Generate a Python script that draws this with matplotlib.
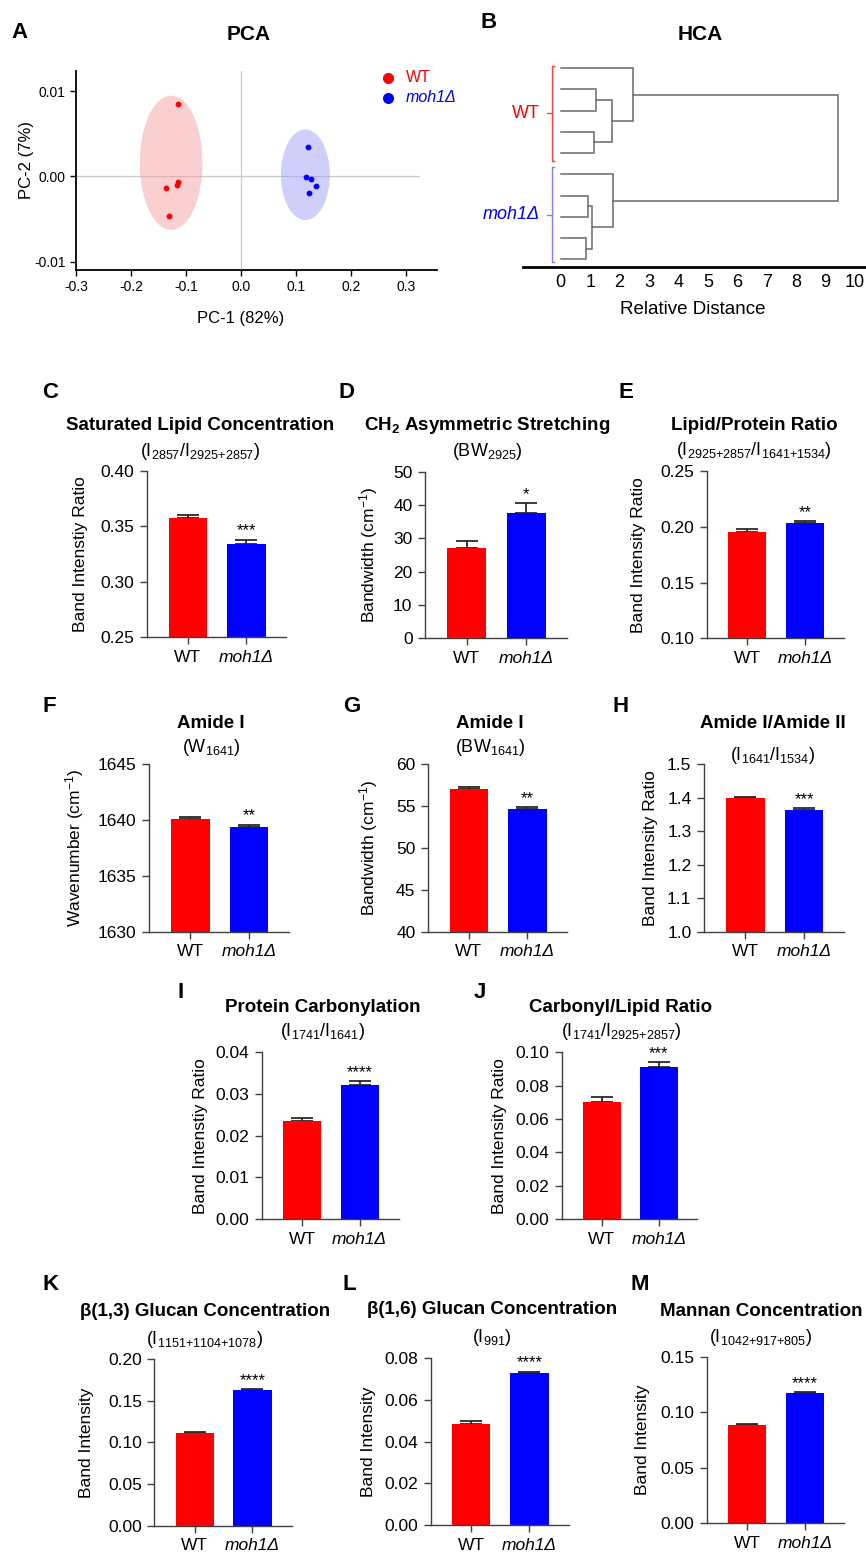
import matplotlib
matplotlib.use('Agg')
import matplotlib.pyplot as plt
from matplotlib.patches import Ellipse

plt.rcParams['font.family'] = ['Liberation Sans', 'DejaVu Sans']
plt.rcParams['mathtext.fontset'] = 'custom'
plt.rcParams['mathtext.rm'] = 'Liberation Sans'
plt.rcParams['mathtext.it'] = 'Liberation Sans:italic'
plt.rcParams['mathtext.bf'] = 'Liberation Sans:bold'
plt.rcParams['axes.unicode_minus'] = False

W, H = 866, 1553  # output size in px (dpi 100)

# ---------------- data ----------------
groups = ['WT', 'moh1Δ']
red, blue = '#ff0000', '#0000ff'

# PCA scores (PC-1, PC-2)
wt_pc1 = [-0.115, -0.136, -0.117, -0.115, -0.130]
wt_pc2 = [0.0085, -0.0014, -0.0010, -0.0007, -0.0046]
ko_pc1 = [0.122, 0.119, 0.127, 0.136, 0.124]
ko_pc2 = [0.0035, -0.0001, -0.0003, -0.0011, -0.0019]
# confidence ellipses: centre x, centre y, width, height
wt_ellipse = [-0.127, 0.0016, 0.114, 0.0157]
ko_ellipse = [0.117, 0.0002, 0.089, 0.0106]

# HCA: 10 leaves (0-4 WT, 5-9 moh1), merges (a, b, relative distance)
n_leaves = 10
hca_merges = [
    (1, 2, 1.21),    # -> 10
    (3, 4, 1.14),    # -> 11
    (10, 11, 1.74),  # -> 12
    (0, 12, 2.46),   # -> 13
    (6, 7, 0.93),    # -> 14
    (8, 9, 0.87),    # -> 15
    (14, 15, 1.06),  # -> 16
    (5, 16, 1.78),   # -> 17
    (13, 17, 9.41),  # -> 18
]

# bar panels: mean and SEM for WT, moh1
sat_lipid = [0.3577, 0.3337]
sat_lipid_err = [0.0021, 0.0039]
ch2_bw = [27.1, 37.6]
ch2_bw_err = [2.2, 2.9]
lipid_protein = [0.1950, 0.2031]
lipid_protein_err = [0.0027, 0.0018]
amide1_wn = [1640.05, 1639.37]
amide1_wn_err = [0.18, 0.18]
amide1_bw = [57.0, 54.6]
amide1_bw_err = [0.27, 0.24]
amide_ratio = [1.398, 1.364]
amide_ratio_err = [0.004, 0.004]
carbonyl = [0.0235, 0.0321]
carbonyl_err = [0.0008, 0.0010]
carbonyl_lipid = [0.0704, 0.0910]
carbonyl_lipid_err = [0.0026, 0.0030]
glucan13 = [0.1109, 0.1625]
glucan13_err = [0.0011, 0.0012]
glucan16 = [0.0485, 0.0731]
glucan16_err = [0.0015, 0.0005]
mannan = [0.0885, 0.1175]
mannan_err = [0.0006, 0.0005]
sig = ['***', '*', '**', '**', '**', '***', '****', '***', '****', '****', '****']


def rect(l, r, t, b):
    return [l / W, 1 - b / H, (r - l) / W, (b - t) / H]


def fxy(x, y):
    return x / W, 1 - y / H


fig = plt.figure(figsize=(W / 100, H / 100), dpi=100)


def letter(ch, x, y):
    fig.text(*fxy(x, y), ch, fontsize=16, fontweight='bold', ha='center', va='center')


# ---------------- A: PCA ----------------
ax = fig.add_axes(rect(76, 437, 71, 270))
ax.set_xlim(-0.3, 0.3564)
ax.set_ylim(-0.01094, 0.01234)
for (cx, cy, w, h), c in [(wt_ellipse, '#f4a0a0'), (ko_ellipse, '#a0a0f4')]:
    ax.add_patch(Ellipse((cx, cy), w, h, facecolor=c, alpha=0.5, edgecolor='none'))
ax.axhline(0, xmax=0.95, color='#c8c8c8', lw=0.9, zorder=0)
ax.axvline(0, color='#c8c8c8', lw=0.9, zorder=0)
ax.scatter(wt_pc1, wt_pc2, s=10, color=red, zorder=3, label='WT')
ax.scatter(ko_pc1, ko_pc2, s=10, color=blue, zorder=3, label='moh1Δ')
for s in ['top', 'right']:
    ax.spines[s].set_visible(False)
for s in ['left', 'bottom']:
    ax.spines[s].set_linewidth(1.3)
xt = [-0.3, -0.2, -0.1, 0.0, 0.1, 0.2, 0.3]
ax.set_xticks(xt)
ax.set_xticklabels(['%.1f' % v for v in xt])
yt = [-0.01, 0.0, 0.01]
ax.set_yticks(yt)
ax.set_yticklabels(['%.2f' % v for v in yt])
ax.tick_params(labelsize=10, length=4, width=1)
leg = ax.legend(loc='upper left', bbox_to_anchor=fxy(366, 64), bbox_transform=fig.transFigure,
                frameon=False, markerscale=2.2, handletextpad=0.1, labelspacing=0.3,
                fontsize=11.5, borderaxespad=0)
for t, c in zip(leg.get_texts(), [red, blue]):
    t.set_color(c)
leg.get_texts()[1].set_style('italic')
fig.text(*fxy(241, 318), 'PC-1 (82%)', fontsize=12, ha='center', va='center')
fig.text(*fxy(27, 160), 'PC-2 (7%)', fontsize=12, ha='center', va='center', rotation=90)
fig.text(*fxy(249, 34), 'PCA', fontsize=15, fontweight='bold', ha='center', va='center')
letter('A', 20, 32)

# ---------------- B: HCA ----------------
ax = fig.add_axes(rect(523, 866, 55, 266.7))
ax.set_xlim(-1.28, 10.37)
ax.set_ylim(9.358, -0.627)
pos_x = {i: 0.0 for i in range(n_leaves)}
pos_y = {i: float(i) for i in range(n_leaves)}
for k, (a, b, h) in enumerate(hca_merges):
    ax.plot([pos_x[a], h, h, pos_x[b]], [pos_y[a], pos_y[a], pos_y[b], pos_y[b]],
            color='#6a6a6a', lw=1.1, solid_joinstyle='miter')
    pos_x[n_leaves + k] = h
    pos_y[n_leaves + k] = (pos_y[a] + pos_y[b]) / 2
for lo, hi, c, tc, lab, sty in [(-0.1, 4.35, '#ff4040', red, 'WT', 'normal'),
                                (4.65, 9.15, '#8080ff', blue, 'moh1Δ', 'italic')]:
    bx = -0.285
    ax.plot([bx + 0.07, bx, bx, bx + 0.07], [lo, lo, hi, hi], color=c, lw=1.0)
    mid = (lo + hi) / 2
    ax.plot([bx - 0.17, bx], [mid, mid], color=c, lw=1.0)
    ax.text(-0.70, mid, lab, color=tc, fontsize=13, style=sty, ha='right', va='center')
for s in ['top', 'right', 'left']:
    ax.spines[s].set_visible(False)
ax.spines['bottom'].set_linewidth(2)
ax.set_yticks([])
ax.set_xticks(range(11))
ax.tick_params(axis='x', length=0, labelsize=13, pad=5)
fig.text(*fxy(693, 310), 'Relative Distance', fontsize=13.5, ha='center', va='center')
fig.text(*fxy(700, 34), 'HCA', fontsize=15, fontweight='bold', ha='center', va='center')
letter('B', 489, 22)

# ---------------- bar panels ----------------
bar_panels = [
    ('C', (50, 393), 'Saturated Lipid Concentration', r'(I$_{2857}$/I$_{2925{+}2857}$)',
     (200, 426, 452), 'Band Intenstiy Ratio', 80, (147, 286, 470.7, 637.3),
     [0.25, 0.30, 0.35, 0.40], '%.2f', sat_lipid, sat_lipid_err),
    ('D', (346, 393), r'CH$_\mathbf{2}$ Asymmetric Stretching', r'(BW$_{2925}$)',
     (487, 426, 452), r'Bandwidth (cm$^{-1}$)', 369, (425, 567, 471.7, 638.3),
     [0, 10, 20, 30, 40, 50], '%d', ch2_bw, ch2_bw_err),
    ('E', (626, 393), 'Lipid/Protein Ratio', r'(I$_{2925{+}2857}$/I$_{1641{+}1534}$)',
     (754, 426, 451), 'Band Intensity Ratio', 639, (707, 844, 471, 638.3),
     [0.10, 0.15, 0.20, 0.25], '%.2f', lipid_protein, lipid_protein_err),
    ('F', (49, 706), 'Amide I', r'(W$_{1641}$)',
     (211, 723, 748), r'Wavenumber (cm$^{-1}$)', 75, (149, 289, 764, 931.7),
     [1630, 1635, 1640, 1645], '%d', amide1_wn, amide1_wn_err),
    ('G', (352, 706), 'Amide I', r'(BW$_{1641}$)',
     (490, 723, 748), r'Bandwidth (cm$^{-1}$)', 369, (428, 567, 764, 931.7),
     [40, 45, 50, 55, 60], '%d', amide1_bw, amide1_bw_err),
    ('H', (621, 706), 'Amide I/Amide II', r'(I$_{1641}$/I$_{1534}$)',
     (773, 723, 755), 'Band Intensity Ratio', 650, (704, 844, 764, 931.7),
     [1.0, 1.1, 1.2, 1.3, 1.4, 1.5], '%.1f', amide_ratio, amide_ratio_err),
    ('I', (181, 993), 'Protein Carbonylation', r'(I$_{1741}$/I$_{1641}$)',
     (323, 1007, 1032), 'Band Intenstiy Ratio', 200, (262, 398.6, 1052.3, 1219),
     [0.0, 0.01, 0.02, 0.03, 0.04], '%.2f', carbonyl, carbonyl_err),
    ('J', (480, 993), 'Carbonyl/Lipid Ratio', r'(I$_{1741}$/I$_{2925{+}2857}$)',
     (621, 1007, 1032), 'Band Intensity Ratio', 499, (561.8, 697.5, 1052.3, 1219),
     [0.0, 0.02, 0.04, 0.06, 0.08, 0.10], '%.2f', carbonyl_lipid, carbonyl_lipid_err),
    ('K', (51, 1284), 'β(1,3) Glucan Concentration', r'(I$_{1151{+}1104{+}1078}$)',
     (205, 1312, 1339), 'Band Intensity', 86, (154.4, 291.7, 1359, 1525.7),
     [0.0, 0.05, 0.10, 0.15, 0.20], '%.2f', glucan13, glucan13_err),
    ('L', (349, 1284), 'β(1,6) Glucan Concentration', r'(I$_{991}$)',
     (492, 1310, 1337), 'Band Intensity', 369, (430.5, 569, 1358.3, 1525),
     [0.0, 0.02, 0.04, 0.06, 0.08], '%.2f', glucan16, glucan16_err),
    ('M', (640, 1284), 'Mannan Concentration', r'(I$_{1042{+}917{+}805}$)',
     (761, 1311, 1337), 'Band Intensity', 642, (706.7, 844.4, 1356.7, 1523.3),
     [0.0, 0.05, 0.10, 0.15], '%.2f', mannan, mannan_err),
]

xpos = [0, 1]
for (let, lxy, title, sub, (tx, ty, sy), ylab, ylx, box, ticks, fmt, mean, err), star in zip(bar_panels, sig):
    l, r, t, b = box
    ax = fig.add_axes(rect(l, r, t, b))
    ax.bar(xpos, mean, width=0.66, color=[red, blue], zorder=2)
    ax.errorbar(xpos, mean, yerr=[[0, 0], err], fmt='none', ecolor='#2a2a2a',
                elinewidth=1.3, capsize=8, capthick=1.3, zorder=1)
    ax.annotate(star, (xpos[1], mean[1] + err[1]), xytext=(0, 1), textcoords='offset points',
                ha='center', va='bottom', fontsize=12)
    ax.set_xlim(-0.7, 1.68)
    ax.set_ylim(ticks[0], ticks[-1])
    ax.set_yticks(ticks)
    ax.set_yticklabels([fmt % v for v in ticks])
    ax.set_xticks(xpos)
    ax.set_xticklabels(groups)
    ax.get_xticklabels()[1].set_style('italic')
    ax.tick_params(labelsize=12.5, length=5, width=1, pad=4, color='#404040')
    for s in ['top', 'right']:
        ax.spines[s].set_visible(False)
    for s in ['left', 'bottom']:
        ax.spines[s].set_color('#404040')
        ax.spines[s].set_linewidth(1.0)
    fig.text(*fxy(ylx, (t + b) / 2), ylab, rotation=90, fontsize=12.5, ha='center', va='center')
    fig.text(*fxy(tx, ty), title, fontsize=13.5, fontweight='bold', ha='center', va='center')
    fig.text(*fxy(tx, sy), sub, fontsize=13, ha='center', va='center')
    letter(let, *lxy)

fig.savefig('out.png', dpi=100)
